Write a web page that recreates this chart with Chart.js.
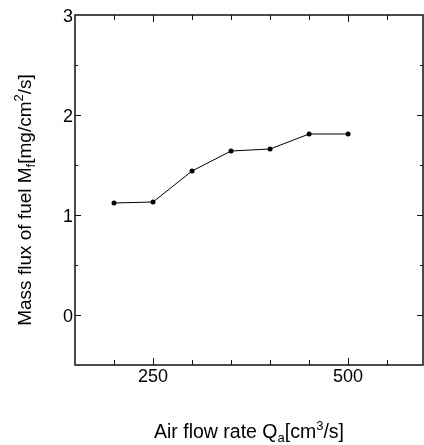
<!DOCTYPE html>
<html>
<head>
<meta charset="utf-8">
<script src="https://cdn.jsdelivr.net/npm/chart.js@4"></script>
<style>
  html, body { margin: 0; padding: 0; background: #fff; overflow: hidden; }
  canvas { display: block; }
</style>
</head>
<body>
<canvas id="chart" width="424" height="445"></canvas>
<script>
// data
const airFlow = [200, 250, 300, 350, 400, 450, 500];
const massFlux = [1.12, 1.13, 1.44, 1.64, 1.66, 1.81, 1.81];
const xLabels = [250, 500];
const yLabels = [0, 1, 2, 3];
const xMinor = [200, 250, 300, 350, 400, 450, 500, 550];
const yMinor = [0, 0.5, 1, 1.5, 2, 2.5];

const FONT = '"Liberation Sans", Arial, sans-serif';

// pieces of a title, with sub- and superscripts
const xTitle = [
  {t: 'Air flow rate Q', s: 19.5, dy: 0},
  {t: 'a', s: 13, dy: 4},
  {t: '[cm', s: 19.5, dy: 0},
  {t: '3', s: 13, dy: -8},
  {t: '/s]', s: 19.5, dy: 0}
];
const yTitle = [
  {t: 'Mass flux of fuel M', s: 19, dy: 0},
  {t: 'f', s: 13, dy: 4},
  {t: '[mg/cm', s: 19, dy: 0},
  {t: '2', s: 13, dy: -8},
  {t: '/s]', s: 19, dy: 0}
];

function titleWidth(ctx, defs) {
  let w = 0;
  defs.forEach(d => { ctx.font = d.s + 'px ' + FONT; w += ctx.measureText(d.t).width; });
  return w;
}
function drawTitle(ctx, defs, x, y) {
  ctx.textAlign = 'left';
  ctx.textBaseline = 'alphabetic';
  defs.forEach(d => {
    ctx.font = d.s + 'px ' + FONT;
    ctx.fillText(d.t, x, y + d.dy);
    x += ctx.measureText(d.t).width;
  });
}

// frame, inward ticks, tick labels and titles
const framePlugin = {
  id: 'frame',
  afterDraw(chart) {
    const ctx = chart.ctx;
    const a = chart.chartArea;
    const xs = chart.scales.x, ys = chart.scales.y;

    ctx.save();
    ctx.fillStyle = '#000';
    ctx.translate(31, 200);
    ctx.rotate(-Math.PI / 2);
    drawTitle(ctx, yTitle, -titleWidth(ctx, yTitle) / 2, 0);
    ctx.restore();

    ctx.save();
    ctx.strokeStyle = '#111';
    ctx.lineWidth = 1.5;
    ctx.strokeRect(a.left, a.top, a.right - a.left, a.bottom - a.top);

    ctx.lineWidth = 1;
    ctx.beginPath();
    xMinor.forEach(v => {
      const px = Math.round(xs.getPixelForValue(v)) + 0.5;
      const len = xLabels.includes(v) ? 7 : 5;
      ctx.moveTo(px, a.bottom); ctx.lineTo(px, a.bottom - len);
      ctx.moveTo(px, a.top); ctx.lineTo(px, a.top + len);
    });
    yMinor.forEach(v => {
      const py = Math.round(ys.getPixelForValue(v)) + 0.5;
      const len = yLabels.includes(v) ? 6 : 3;
      ctx.moveTo(a.left, py); ctx.lineTo(a.left + len, py);
      ctx.moveTo(a.right, py); ctx.lineTo(a.right - len, py);
    });
    ctx.stroke();

    ctx.fillStyle = '#000';
    ctx.font = '18px ' + FONT;
    ctx.textBaseline = 'alphabetic';
    ctx.textAlign = 'center';
    xLabels.forEach(v => ctx.fillText(String(v), xs.getPixelForValue(v), a.bottom + 17));
    yLabels.forEach(v => ctx.fillText(String(v), a.left - 7, ys.getPixelForValue(v) + 7));

    drawTitle(ctx, xTitle, (a.left + a.right) / 2 - titleWidth(ctx, xTitle) / 2, 438);
    ctx.restore();
  }
};

new Chart(document.getElementById('chart'), {
  type: 'line',
  data: {
    datasets: [{
      data: airFlow.map((x, i) => ({x: x, y: massFlux[i]})),
      borderColor: '#000',
      backgroundColor: '#000',
      borderWidth: 1,
      pointRadius: 2.5,
      pointBorderWidth: 0,
      tension: 0
    }]
  },
  options: {
    responsive: false,
    animation: false,
    devicePixelRatio: 1,
    layout: { autoPadding: false, padding: { top: 15, right: 1, left: 0, bottom: 0 } },
    plugins: { legend: { display: false }, tooltip: { enabled: false } },
    scales: {
      x: {
        type: 'linear',
        min: 150,
        max: 596,
        afterFit: s => { s.height = 80; },
        grid: { display: false, drawTicks: false },
        border: { display: false },
        ticks: { display: false, stepSize: 50 }
      },
      y: {
        min: -0.5,
        max: 3,
        afterFit: s => { s.width = 75; },
        grid: { display: false, drawTicks: false },
        border: { display: false },
        ticks: { display: false, stepSize: 0.5 }
      }
    }
  },
  plugins: [framePlugin]
});
</script>
</body>
</html>
